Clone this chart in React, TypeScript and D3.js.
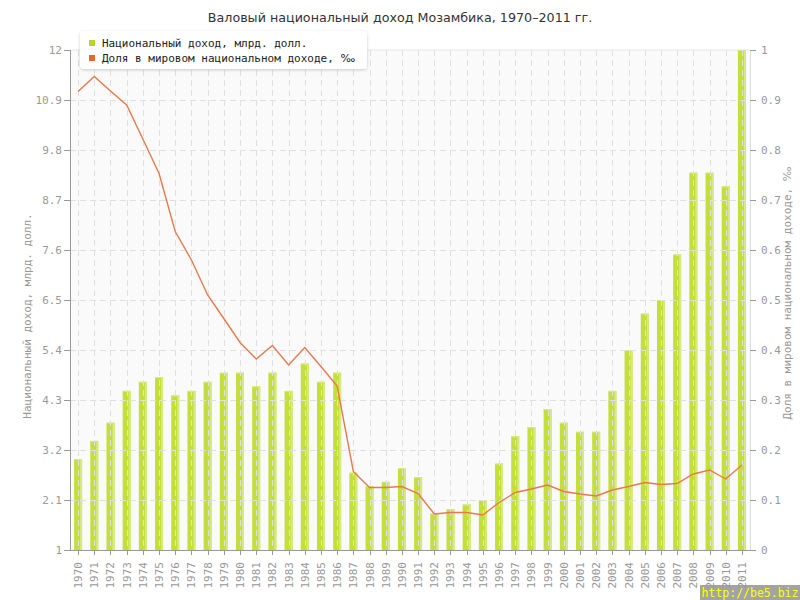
import React from "react";
import * as d3 from "d3";

const years: string[] = d3.range(1970, 2012).map(String);
const incomeValues: number[] = [
  3.0, 3.4, 3.8, 4.5, 4.7, 4.8, 4.4, 4.5, 4.7, 4.9,
  4.9, 4.6, 4.9, 4.5, 5.1, 4.7, 4.9, 2.7, 2.4, 2.5,
  2.8, 2.6, 1.8, 1.9, 2.0, 2.1, 2.9, 3.5, 3.7, 4.1,
  3.8, 3.6, 3.6, 4.5, 5.4, 6.2, 6.5, 7.5, 9.3, 9.3,
  9.0, 12.0,
];
const shareValues: number[] = [
  0.917, 0.947, 0.918, 0.89, 0.822, 0.753, 0.637, 0.58, 0.51, 0.463,
  0.415, 0.382, 0.409, 0.37, 0.405, 0.367, 0.328, 0.157, 0.125, 0.125,
  0.127, 0.113, 0.072, 0.075, 0.075, 0.07, 0.095, 0.115, 0.122, 0.13,
  0.117, 0.112, 0.108, 0.12, 0.127, 0.135, 0.131, 0.133, 0.152, 0.16,
  0.142, 0.17,
];
const leftTicks: number[] = [1, 2.1, 3.2, 4.3, 5.4, 6.5, 7.6, 8.7, 9.8, 10.9, 12];
const rightTicks: number[] = [0, 0.1, 0.2, 0.3, 0.4, 0.5, 0.6, 0.7, 0.8, 0.9, 1];

const title = "Валовый национальный доход Мозамбика, 1970–2011 гг.";
const legendLabels = ["Национальный доход, млрд. долл.", "Доля в мировом национальном доходе, "];
const permille = "‰";
const leftTitle = "Национальный доход, млрд. долл.";
const rightTitle = "Доля в мировом национальном доходе, ";

const M = { left: 70, right: 750, top: 50, bottom: 550 };
const mono = "'DejaVu Sans Mono', monospace";
const sans = "'DejaVu Sans', Verdana, sans-serif";

export default function App() {
  const x = d3.scaleBand<string>().domain(years).range([M.left, M.right]);
  const yL = d3.scaleLinear().domain([1, 12]).range([M.bottom, M.top]);
  const yR = d3.scaleLinear().domain([0, 1]).range([M.bottom, M.top]);
  const cx = (yr: string) => (x(yr) as number) + x.bandwidth() / 2;
  const barW = 8;
  const line = d3
    .line<number>()
    .x((_, i) => cx(years[i]))
    .y((d) => yR(d));

  return (
    <svg
      width={800}
      height={600}
      style={{ position: "absolute", left: 0, top: 0, background: "#fff" }}
    >
      <defs>
        <filter id="sh" x="-10%" y="-20%" width="120%" height="160%">
          <feDropShadow dx="0" dy="1" stdDeviation="1.4" floodColor="#000" floodOpacity="0.2" />
        </filter>
      </defs>
      <text x={400} y={22} textAnchor="middle" fontFamily={sans} fontSize={12.7} fill="#333">
        {title}
      </text>

      <rect x={M.left} y={M.top} width={M.right - M.left} height={M.bottom - M.top} fill="#fafafa" />
      <line x1={M.left} x2={M.right} y1={M.top} y2={M.top} stroke="#e6e6e6" />

      {/* bars */}
      {years.map((yr, i) => {
        const top = Math.max(yL(incomeValues[i]), M.top);
        const bx = cx(yr) - barW / 2;
        return (
          <g key={yr}>
            <rect x={bx} y={top} width={barW} height={M.bottom - top} fill="#c4de3c" />
            <rect x={bx + barW - 2} y={top} width={2} height={M.bottom - top} fill="#d6ea82" />
            <rect x={bx} y={top} width={barW} height={1} fill="#d6ea82" />
          </g>
        );
      })}

      {/* grid */}
      {leftTicks.slice(1, -1).map((t) => (
        <line key={"h" + t} x1={M.left} x2={M.right} y1={Math.round(yL(t)) + 0.5} y2={Math.round(yL(t)) + 0.5}
          stroke="#e0e0e0" strokeDasharray="6,4" />
      ))}
      {years.map((yr) => (
        <line key={"v" + yr} x1={Math.round(cx(yr)) + 0.5} x2={Math.round(cx(yr)) + 0.5} y1={M.top} y2={M.bottom}
          stroke="#e0e0e0" strokeDasharray="6,4" />
      ))}

      {/* line */}
      <path d={line(shareValues) || ""} fill="none" stroke="#e8794e" strokeWidth={1.4} />

      {/* left axis */}
      <line x1={M.left + 0.5} x2={M.left + 0.5} y1={M.top} y2={M.bottom} stroke="#999" />
      {leftTicks.map((t) => (
        <g key={"l" + t}>
          <line x1={M.left - 6} x2={M.left} y1={Math.round(yL(t)) + 0.5} y2={Math.round(yL(t)) + 0.5} stroke="#999" />
          <text x={M.left - 8} y={yL(t) + 4} textAnchor="end" fontFamily={mono} fontSize={11} fill="#999">
            {String(t)}
          </text>
        </g>
      ))}
      {/* right axis */}
      <line x1={M.right + 0.5} x2={M.right + 0.5} y1={M.top} y2={M.bottom} stroke="#ddd" />
      {rightTicks.map((t) => (
        <g key={"r" + t}>
          <line x1={M.right} x2={M.right + 6} y1={Math.round(yR(t)) + 0.5} y2={Math.round(yR(t)) + 0.5} stroke="#999" />
          <text x={M.right + 11} y={yR(t) + 4} textAnchor="start" fontFamily={mono} fontSize={11} fill="#999">
            {String(t)}
          </text>
        </g>
      ))}
      {/* bottom axis */}
      <line x1={M.left} x2={M.right} y1={M.bottom + 0.5} y2={M.bottom + 0.5} stroke="#999" />
      {years.map((yr) => (
        <g key={"b" + yr}>
          <line x1={Math.round(cx(yr)) + 0.5} x2={Math.round(cx(yr)) + 0.5} y1={M.bottom} y2={M.bottom + 5} stroke="#999" />
          <text
            transform={`translate(${cx(yr) + 4},${M.bottom + 12}) rotate(-90)`}
            textAnchor="end"
            fontFamily={mono}
            fontSize={11}
            fill="#999"
          >
            {yr}
          </text>
        </g>
      ))}

      <text transform={`translate(31,316) rotate(-90)`} textAnchor="middle" fontFamily={mono} fontSize={11} fill="#999">
        {leftTitle}
      </text>
      <text transform={`translate(791,293) rotate(-90)`} textAnchor="middle" fontFamily={mono} fontSize={11} fill="#999">
        {rightTitle}
        <tspan fontFamily={sans}>{permille}</tspan>
      </text>

      {/* legend */}
      <rect x={80} y={31} width={287} height={38} rx={4} fill="#fff" filter="url(#sh)" />
      <rect x={89} y={40} width={6} height={6} fill="#b5d52a" />
      <text x={102} y={47} fontFamily={mono} fontSize={11} fill="#222">{legendLabels[0]}</text>
      <rect x={89} y={55} width={6} height={6} fill="#e8652f" />
      <text x={102} y={62} fontFamily={mono} fontSize={11} fill="#222">
        {legendLabels[1]}
        <tspan fontFamily={sans}>{permille}</tspan>
      </text>

      {/* watermark */}
      <rect x={700} y={585} width={100} height={15} fill="#999" opacity={0.9} />
      <text x={750} y={597} textAnchor="middle" fontFamily={mono} fontSize={11.5} fill="#ffff00">
        http://be5.biz
      </text>
    </svg>
  );
}
